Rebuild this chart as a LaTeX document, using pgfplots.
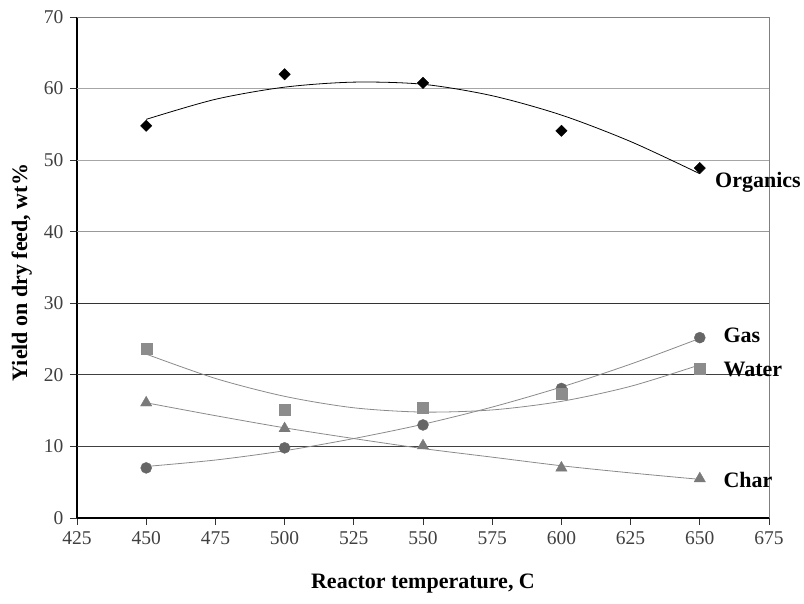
\documentclass[border=0pt]{standalone}
\usepackage{fontspec}
\setmainfont{Liberation Serif}
\usepackage{pgfplots}
\pgfplotsset{compat=1.18}
\definecolor{gasc}{HTML}{666666}
\definecolor{watc}{HTML}{8C8C8C}
\definecolor{charc}{HTML}{7A7A7A}
\definecolor{trendc}{HTML}{8A8A8A}
\begin{document}
\begin{tikzpicture}
\begin{axis}[
  name=ax,
  scale only axis,
  width=692bp, height=501bp,
  xmin=425, xmax=675, ymin=0, ymax=70,
  xtick={425,450,...,675},
  ytick={0,10,...,70},
  tick align=outside,
  major tick length=7bp,
  xtick pos=bottom, ytick pos=left,
  axis x line*=bottom, axis y line*=left,
  axis line style={black, line width=1.2pt},
  tick style={black!80, line width=0.8pt},
  /pgf/number format/assume math mode=true,
  /pgf/number format/1000 sep={},
  ticklabel style={font=\fontsize{19.5bp}{22bp}\selectfont, text=black!75},
  yticklabel style={xshift=-3bp},
  xticklabel style={yshift=-3bp},
  xlabel={Reactor temperature, C},
  ylabel={Yield on dry feed, wt\%},
  label style={font=\bfseries\fontsize{22bp}{26bp}\selectfont},
  xlabel style={at={(axis description cs:0.5,-0.13)}, anchor=center},
  ylabel style={at={(axis description cs:-0.08,0.49)}, anchor=center},
  clip=false,
]
% grid lines
\addplot[black!75, line width=0.9pt, forget plot] coordinates {(425,10) (675,10)};
\addplot[black!75, line width=0.9pt, forget plot] coordinates {(425,20) (675,20)};
\addplot[black!80, line width=0.9pt, forget plot] coordinates {(425,30) (675,30)};
\addplot[black!40, line width=0.9pt, forget plot] coordinates {(425,40) (675,40)};
\addplot[black!35, line width=0.9pt, forget plot] coordinates {(425,50) (675,50)};
\addplot[black!35, line width=0.9pt, forget plot] coordinates {(425,60) (675,60)};
\addplot[black!50, line width=1pt, forget plot] coordinates {(425,70) (675,70) (675,0)};
% trend lines
\addplot[black, line width=0.8pt, smooth, no marks] coordinates {
 (450,55.7) (475,58.5) (500,60.2) (525,60.9) (550,60.6) (575,59.0) (600,56.3) (625,52.6) (650,48.1)};
\addplot[trendc, line width=0.8pt, smooth, no marks] coordinates {
 (450,7.2) (475,8.1) (500,9.4) (525,11.1) (550,13.1) (575,15.5) (600,18.3) (625,21.5) (650,25.1)};
\addplot[trendc, line width=0.8pt, smooth, no marks] coordinates {
 (450,22.9) (475,19.5) (500,17.0) (525,15.4) (550,14.8) (575,15.1) (600,16.3) (625,18.4) (650,21.4)};
\addplot[trendc, line width=0.8pt, smooth, no marks] coordinates {
 (450,16.1) (475,14.3) (500,12.6) (525,11.1) (550,9.7) (575,8.5) (600,7.3) (625,6.3) (650,5.4)};
% data points
\addplot[only marks, mark=square*, mark size=4bp, mark options={rotate=45, fill=black, draw=black}] coordinates {
 (450,54.8) (500,62.0) (550,60.8) (600,54.1) (650,48.9)};
\addplot[only marks, mark=*, mark size=5.5bp, mark options={fill=gasc, draw=gasc}] coordinates {
 (450,7.0) (500,9.8) (550,13.0) (600,18.1) (650,25.2)};
\addplot[only marks, mark=square*, mark size=5.5bp, mark options={fill=watc, draw=watc}] coordinates {
 (450,23.7) (500,15.1) (550,15.4) (600,17.3) (650,20.9)};
\addplot[only marks, mark=triangle*, mark size=6.5bp, mark options={fill=charc, draw=charc}] coordinates {
 (450,16.1) (500,12.5) (550,10.1) (600,7.0) (650,5.5)};
% labels
\node[anchor=west, font=\bfseries\fontsize{22bp}{26bp}\selectfont, inner sep=0pt] at (axis cs:655.5,46.9) {Organics};
\node[anchor=west, font=\bfseries\fontsize{22bp}{26bp}\selectfont, inner sep=0pt] at (axis cs:658.5,25.5) {Gas};
\node[anchor=west, font=\bfseries\fontsize{22bp}{26bp}\selectfont, inner sep=0pt] at (axis cs:658.5,20.8) {Water};
\node[anchor=west, font=\bfseries\fontsize{22bp}{26bp}\selectfont, inner sep=0pt] at (axis cs:658.5,5.3) {Char};
\end{axis}
\pgfresetboundingbox
\path (ax.south west) ++(-77bp,-86bp) rectangle ++(804bp,604bp);
\end{tikzpicture}
\end{document}
